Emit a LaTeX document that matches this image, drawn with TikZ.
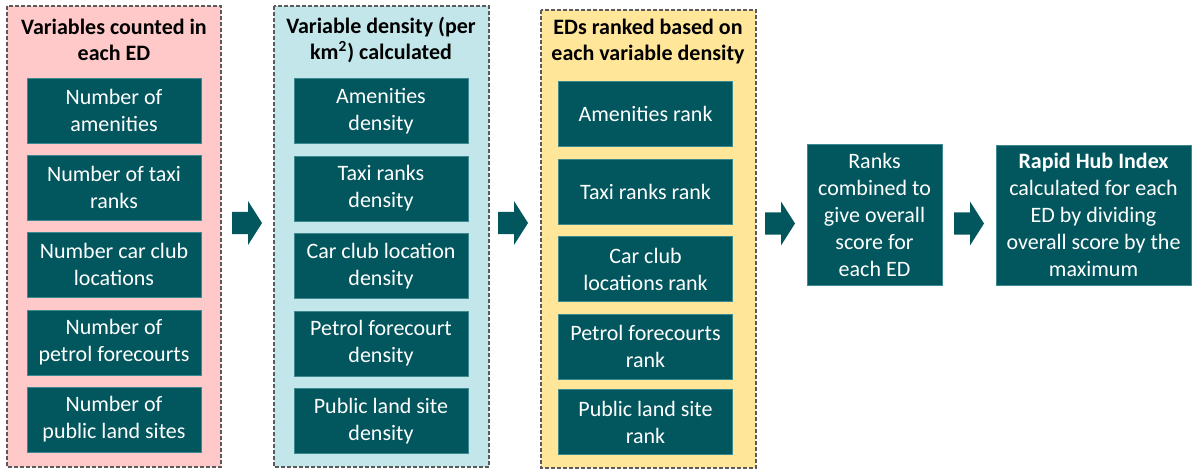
\documentclass[tikz,border=0pt]{standalone}
\usepackage{fontspec}
\setmainfont{Carlito}
\definecolor{tealfill}{HTML}{02575E}
\definecolor{tealedge}{HTML}{3C8A90}
\definecolor{pinkbg}{HTML}{FFC9C9}
\definecolor{bluebg}{HTML}{C2E6EA}
\definecolor{yellowbg}{HTML}{FFE699}
\definecolor{dashgray}{HTML}{5A5A5A}
\begin{document}
\begin{tikzpicture}[x=0.5pt,y=-0.5pt,
  panel/.style={draw=dashgray, line width=0.7pt, dash pattern=on 2pt off 1pt},
  title/.style={align=center, font=\fontsize{11}{13}\selectfont\bfseries, text=black, inner sep=0pt},
  box/.style={fill=tealfill, draw=tealedge, line width=0.3pt, text=white, align=center,
    font=\fontsize{11}{13.5}\selectfont, inner sep=0pt, minimum width=87pt, minimum height=32.5pt},
  blockarrow/.pic={\fill[tealfill] (0,-11) -- (16,-11) -- (16,-22) -- (30,0) -- (16,22) -- (16,11) -- (0,11) -- cycle;}
]
\useasboundingbox (0,0) rectangle (1192,470);

% panels
\draw[panel, fill=pinkbg] (7,6) rectangle (221,467);
\draw[panel, fill=bluebg] (274,6) rectangle (489,467);
\draw[panel, fill=yellowbg] (541,10) rectangle (756,468);

% panel titles
\node[title] (t1) at (114,40) {Variables counted in\\each ED};
\node[title] (t2) at (381,40) {Variable density (per\\km\textsuperscript{2}) calculated};
\node[title] (t3) at (648,42) {EDs ranked based on\\each variable density};

% counts
\node[box] (c1) at (114,110.5) {Number of\\amenities};
\node[box] (c2) at (114,187.5) {Number of taxi\\ranks};
\node[box] (c3) at (114,264.5) {Number car club\\locations};
\node[box] (c4) at (114,342.5) {Number of\\petrol forecourts};
\node[box] (c5) at (114,419.5) {Number of\\public land sites};

% densities
\node[box] (d1) at (381,111) {Amenities\\density};
\node[box] (d2) at (381,188.5) {Taxi ranks\\density};
\node[box] (d3) at (381,266) {Car club location\\density};
\node[box] (d4) at (381,343.5) {Petrol forecourt\\density};
\node[box] (d5) at (381,421) {Public land site\\density};

% ranks
\node[box] (r1) at (645.5,114) {Amenities rank};
\node[box] (r2) at (645.5,191.5) {Taxi ranks rank};
\node[box] (r3) at (645.5,269) {Car club\\locations rank};
\node[box] (r4) at (645.5,346.5) {Petrol forecourts\\rank};
\node[box] (r5) at (645.5,422) {Public land site\\rank};

% final steps
\node[box, minimum width=67.5pt, minimum height=70.5pt] (comb) at (874.5,214.5)
  {Ranks\\combined to\\give overall\\score for\\each ED};
\node[box, minimum width=97.5pt, minimum height=70pt] (rhi) at (1093.5,215)
  {\textbf{Rapid Hub Index}\\calculated for each\\ED by dividing\\overall score by the\\maximum};

% block arrows between stages
\pic at (232,223) {blockarrow};
\pic at (498,223) {blockarrow};
\pic at (765,223.5) {blockarrow};
\pic at (954,223.5) {blockarrow};
\end{tikzpicture}
\end{document}
